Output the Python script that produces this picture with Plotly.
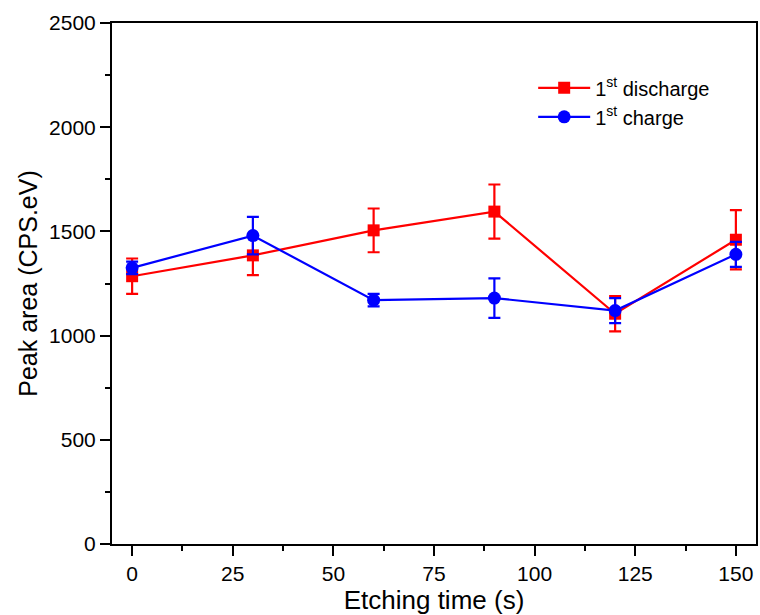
import plotly.graph_objects as go

# Etching time (s)
etch_time = [0, 30, 60, 90, 120, 150]

# Peak area (CPS.eV) with error bars
discharge_area = [1285, 1385, 1505, 1595, 1105, 1460]
discharge_err = [85, 95, 105, 130, 85, 142]
charge_area = [1325, 1480, 1170, 1180, 1120, 1390]
charge_err = [30, 90, 30, 95, 60, 60]

series_names = ["1<sup>st</sup> discharge", "1<sup>st</sup> charge"]
x_ticks = [0, 25, 50, 75, 100, 125, 150]
y_ticks = [0, 500, 1000, 1500, 2000, 2500]

FONT = "Liberation Sans, Arial, sans-serif"

fig = go.Figure()
fig.add_trace(go.Scatter(
    x=etch_time, y=discharge_area, name=series_names[0],
    mode="lines+markers",
    line=dict(color="#ff0000", width=2.2),
    marker=dict(symbol="square", size=12, color="#ff0000"),
    error_y=dict(type="data", array=discharge_err, color="#ff0000", thickness=2.2, width=6),
))
fig.add_trace(go.Scatter(
    x=etch_time, y=charge_area, name=series_names[1],
    mode="lines+markers",
    line=dict(color="#0000ff", width=2.2),
    marker=dict(symbol="circle", size=13, color="#0000ff"),
    error_y=dict(type="data", array=charge_err, color="#0000ff", thickness=2.2, width=6),
))

axis_common = dict(
    showline=True, linecolor="black", linewidth=2, mirror=True,
    ticks="outside", ticklen=10, tickwidth=2, tickcolor="black",
    showgrid=False, zeroline=False,
    tickfont=dict(family=FONT, size=21, color="black"),
)

fig.update_xaxes(
    range=[-5, 155], tickvals=x_ticks,
    minor=dict(ticks="outside", ticklen=5, tickwidth=2, dtick=12.5, tick0=0, tickcolor="black", showgrid=False),
    title=dict(text="Etching time (s)", font=dict(family=FONT, size=26, color="black"), standoff=2),
    **axis_common,
)
fig.update_yaxes(
    range=[0, 2500], tickvals=y_ticks,
    minor=dict(ticks="outside", ticklen=5, tickwidth=2, dtick=250, tick0=0, tickcolor="black", showgrid=False),
    title=dict(text="Peak area (CPS.eV)", font=dict(family=FONT, size=25, color="black"), standoff=4),
    **axis_common,
)

fig.update_layout(
    width=760, height=615,
    margin=dict(l=112, r=2, t=23, b=71),
    paper_bgcolor="white", plot_bgcolor="white",
    showlegend=True,
    legend=dict(
        x=0.654, y=0.913, xanchor="left", yanchor="top",
        bgcolor="rgba(0,0,0,0)",
        font=dict(family=FONT, size=20, color="black"),
        tracegroupgap=0, itemwidth=52,
    ),
)

fig.write_html("out.html")
